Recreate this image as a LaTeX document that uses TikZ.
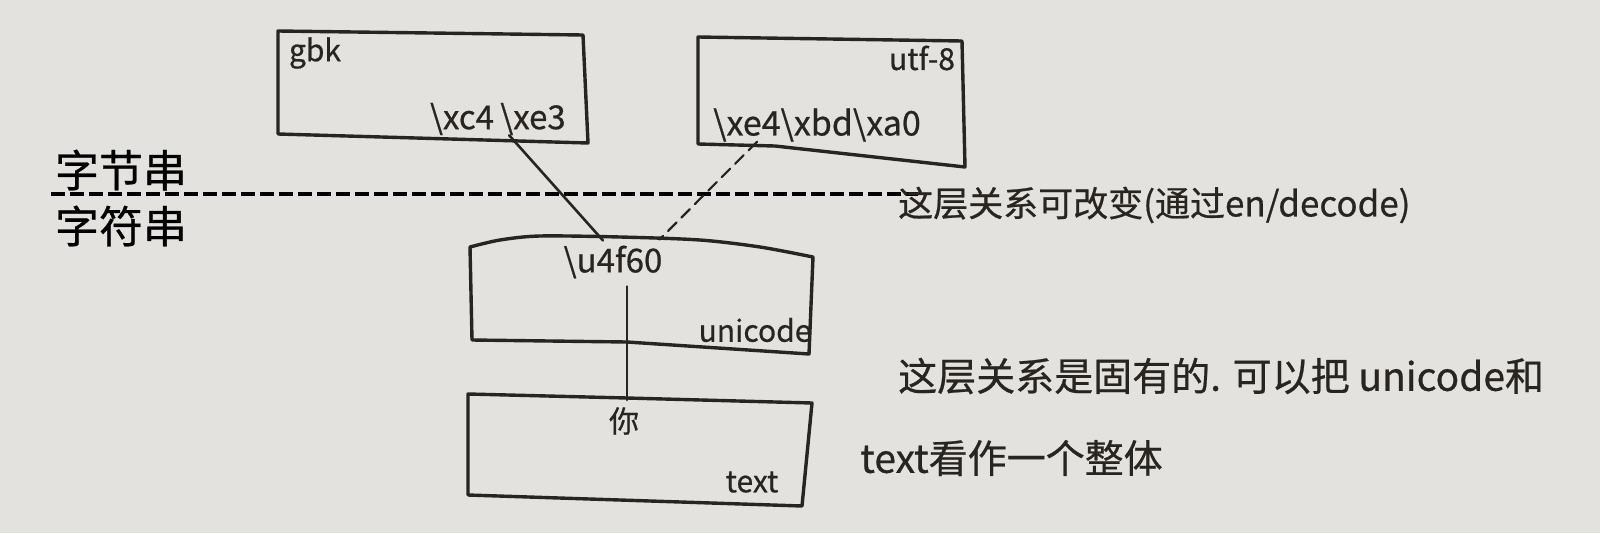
\documentclass[tikz,border=0pt]{standalone}
\usepackage{fontspec}
\newfontfamily\cjk[FakeBold=0.6]{Noto Sans CJK SC}
\usetikzlibrary{calc}
\definecolor{paper}{RGB}{228,226,222}
\definecolor{inkc}{RGB}{40,36,32}
\begin{document}
\begin{tikzpicture}[x=1pt,y=-1pt,
  ink/.style={draw=inkc, line width=3.4pt, line join=round, line cap=round},
  lbl/.style={font=\cjk\fontsize{30}{34}\selectfont, text=inkc, inner sep=0pt},
  note/.style={font=\cjk\fontsize{36}{40}\selectfont, text=inkc, inner sep=0pt, anchor=west},
  printed/.style={font=\cjk\fontsize{44}{48}\selectfont, text=black, inner sep=0pt}]
\fill[paper] (0,0) rectangle (1600,533);
\useasboundingbox (0,0) rectangle (1600,533);
% boxes (hand drawn)
\draw[ink] (278,31) -- (583,35) -- (588,143) -- (278,134) -- cycle;
\draw[ink] (698,37) -- (962,41) -- (965,167) -- (775,146) -- (698,144) -- cycle;
\draw[ink] plot[smooth] coordinates {(470,247) (500,240) (540,236) (620,237) (700,240) (760,247) (813,257)}
  -- (809,354) -- (627,342) -- (472,340) -- cycle;
\draw[ink] (468,394) -- (627,398) -- (812,403) -- (802,506) -- (468,495) -- cycle;
% labels
\node[lbl] (gbk) at (315,53) {gbk};
\node[lbl, font=\cjk\fontsize{33}{36}\selectfont] (xc4) at (462,119) {\textbackslash xc4};
\node[lbl, font=\cjk\fontsize{33}{36}\selectfont] (xe3) at (533,119) {\textbackslash xe3};
\node[lbl] (utf) at (922,58) {utf-8};
\node[lbl, font=\cjk\fontsize{34}{38}\selectfont] (utfbytes) at (817,125) {\textbackslash xe4\textbackslash xbd\textbackslash xa0};
\node[lbl, font=\cjk\fontsize{33}{36}\selectfont] (u4f60) at (613,262) {\textbackslash u4f60};
\node[lbl] (uni) at (755,330) {unicode};
\node[lbl] (ni) at (624,421) {你};
\node[lbl] (txt) at (752,482) {text};
% printed labels and separator
\node[printed] (bytes) at (121,170) {字节串};
\node[printed] (chars) at (121,226) {字符串};
\coordinate (sepL) at (51,194);
\coordinate (sepR) at (918,194);
\draw[black, line width=4pt, dash pattern=on 14pt off 5pt] (sepL) -- (sepR);
% connectors
\draw[ink, line width=2.6pt] ($(xe3.south west)+(9,0)$) -- ($(u4f60.north)+(-10,-5)$);
\draw[ink, line width=2.2pt, dash pattern=on 12pt off 7pt] ($(utfbytes.south west)+(44,0)$) -- ($(u4f60.north east)+(-3,-6)$);
\draw[ink, line width=2.6pt] ($(u4f60.south)+(14,8)$) -- ($(ni.north)+(3,-7)$);
% notes
\node[note, font=\cjk\fontsize{35}{40}\selectfont] (n1) at (898,205) {这层关系可改变(通过en/decode)};
\node[note, font=\cjk\fontsize{39}{44}\selectfont] (n2) at (898,376) {这层关系是固有的. 可以把 unicode和};
\node[note, font=\cjk\fontsize{39}{44}\selectfont] (n3) at (860,458) {text看作一个整体};
\end{tikzpicture}
\end{document}
